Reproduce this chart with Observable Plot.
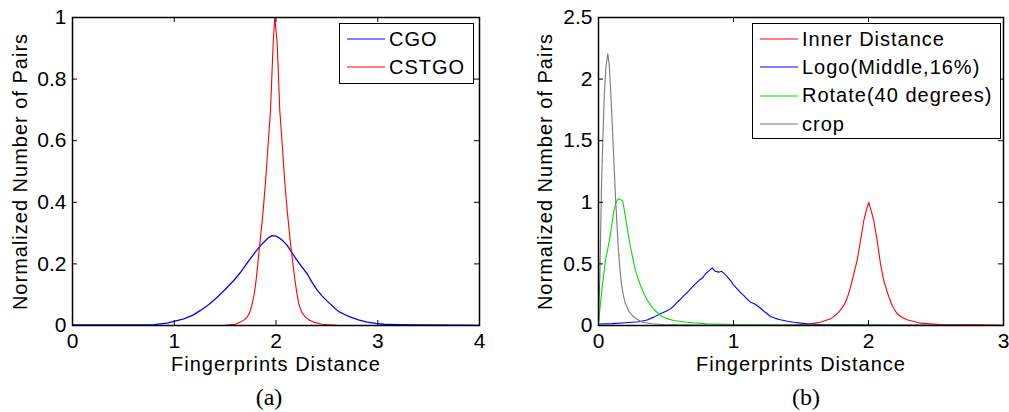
<!DOCTYPE html>
<html>
<head>
<meta charset="utf-8">
<script src="https://cdn.jsdelivr.net/npm/d3@7"></script>
<script src="https://cdn.jsdelivr.net/npm/@observablehq/plot@0.6"></script>
<style>
  html, body { margin: 0; padding: 0; background: #fff; }
  #wrap { position: relative; width: 1009px; height: 412px; overflow: hidden; background: #fff; font-family: "Liberation Sans", Arial, sans-serif; }
  .pnl { position: absolute; top: 0; }
  .legend { position: absolute; box-sizing: border-box; border: 1.5px solid #000; background: #fff; padding-top: 1px; }
  .row { display: flex; align-items: center; height: 28.3px; font-size: 20px; letter-spacing: 1px; color: #000; white-space: nowrap; }
  .row svg { display: block; margin-right: 4px; margin-left: 7px; }
  .cap { position: absolute; font-family: "Liberation Serif", "Times New Roman", serif; font-size: 24px; color: #000; transform: translate(-50%, -50%); }
</style>
</head>
<body>
<div id="wrap">
  <div id="pa" class="pnl" style="left:0px"></div>
  <div id="pb" class="pnl" style="left:500px"></div>
  <div id="lega" class="legend" style="left:339px; top:23px; width:135px; height:61px;"></div>
  <div id="legb" class="legend" style="left:752px; top:23px; width:249px; height:116px;"></div>
  <div class="cap" style="left:269px; top:397px;">(a)</div>
  <div class="cap" style="left:806px; top:397px;">(b)</div>
</div>
<script>
// ---------- Panel (a) data ----------
const aXTicks = [0, 1, 2, 3, 4];
const aYTicks = [0, 0.2, 0.4, 0.6, 0.8, 1];
const cgoX = [0, 0.5, 0.8, 0.93, 1.094, 1.18, 1.258, 1.34, 1.422, 1.5, 1.585, 1.65, 1.7, 1.75, 1.8, 1.85, 1.9, 1.935, 1.962, 2.0, 2.03, 2.07, 2.11, 2.15, 2.2, 2.25, 2.306, 2.355, 2.405, 2.45, 2.5, 2.56, 2.617, 2.68, 2.732, 2.81, 2.896, 2.98, 3.06, 3.2, 3.4, 3.85, 4];
const cgoY = [0.002, 0.002, 0.003, 0.0076, 0.0216, 0.033, 0.049, 0.068, 0.092, 0.117, 0.146, 0.172, 0.195, 0.218, 0.24, 0.26, 0.277, 0.287, 0.292, 0.29, 0.285, 0.274, 0.26, 0.24, 0.215, 0.192, 0.168, 0.14, 0.115, 0.097, 0.08, 0.062, 0.045, 0.035, 0.027, 0.018, 0.011, 0.007, 0.004, 0.003, 0.002, 0.001, 0];
const cstgoX = [0, 1.0, 1.5, 1.6, 1.65, 1.69, 1.717, 1.745, 1.766, 1.79, 1.808, 1.841, 1.874, 1.9, 1.923, 1.946, 1.959, 1.972, 1.988, 2.012, 2.025, 2.037, 2.061, 2.083, 2.11, 2.143, 2.182, 2.205, 2.224, 2.255, 2.29, 2.33, 2.37, 2.45, 2.6, 3.0, 4.0];
const cstgoY = [0, 0, 0.001, 0.004, 0.011, 0.019, 0.027, 0.045, 0.07, 0.11, 0.157, 0.265, 0.373, 0.48, 0.59, 0.698, 0.806, 0.915, 1.0, 0.915, 0.806, 0.698, 0.59, 0.48, 0.373, 0.265, 0.157, 0.105, 0.07, 0.042, 0.027, 0.017, 0.011, 0.004, 0.001, 0, 0];

// ---------- Panel (b) data ----------
const bXTicks = [0, 1, 2, 3];
const bYTicks = [0, 0.5, 1, 1.5, 2, 2.5];
const innerX = [0, 1.0, 1.4, 1.57, 1.644, 1.719, 1.75, 1.78, 1.805, 1.83, 1.85, 1.867, 1.891, 1.916, 1.941, 1.965, 1.985, 2.002, 2.02, 2.039, 2.064, 2.089, 2.113, 2.143, 2.175, 2.212, 2.25, 2.286, 2.385, 2.533, 3.0];
const innerY = [0, 0, 0.002, 0.013, 0.027, 0.054, 0.078, 0.108, 0.145, 0.189, 0.25, 0.311, 0.42, 0.528, 0.69, 0.852, 0.94, 1.0, 0.93, 0.852, 0.69, 0.5, 0.365, 0.257, 0.162, 0.095, 0.065, 0.046, 0.019, 0.008, 0.003];
const logoX = [0, 0.1, 0.2, 0.3, 0.36, 0.41, 0.459, 0.5, 0.533, 0.56, 0.583, 0.61, 0.632, 0.66, 0.681, 0.71, 0.743, 0.77, 0.793, 0.82, 0.842, 0.865, 0.891, 0.91, 0.928, 0.95, 0.978, 1.0, 1.027, 1.05, 1.077, 1.1, 1.126, 1.15, 1.175, 1.2, 1.225, 1.25, 1.274, 1.31, 1.348, 1.4, 1.447, 1.546, 1.644, 2.0, 2.5, 3.0];
const logoY = [0.012, 0.015, 0.022, 0.03, 0.045, 0.068, 0.095, 0.115, 0.135, 0.16, 0.189, 0.215, 0.243, 0.27, 0.298, 0.33, 0.365, 0.385, 0.42, 0.445, 0.468, 0.44, 0.433, 0.44, 0.425, 0.4, 0.365, 0.33, 0.298, 0.27, 0.243, 0.215, 0.189, 0.178, 0.162, 0.14, 0.116, 0.095, 0.073, 0.058, 0.046, 0.035, 0.027, 0.013, 0.008, 0.003, 0.002, 0];
const rotateX = [0, 0.027, 0.052, 0.07, 0.089, 0.114, 0.13, 0.146, 0.165, 0.18, 0.2, 0.22, 0.237, 0.255, 0.274, 0.29, 0.311, 0.34, 0.37, 0.41, 0.459, 0.5, 0.558, 0.64, 0.72, 0.805, 1.0, 1.5, 2.0, 3.0];
const rotateY = [0.02, 0.31, 0.53, 0.63, 0.744, 0.933, 1.0, 1.028, 1.02, 1.01, 0.879, 0.74, 0.635, 0.54, 0.446, 0.39, 0.325, 0.25, 0.19, 0.13, 0.081, 0.058, 0.04, 0.028, 0.02, 0.013, 0.008, 0.004, 0.002, 0];
const cropX = [0, 0.01, 0.022, 0.032, 0.042, 0.055, 0.069, 0.079, 0.089, 0.106, 0.126, 0.146, 0.158, 0.17, 0.185, 0.2, 0.225, 0.25, 0.285, 0.324, 0.4, 0.47, 0.7, 1.0, 1.5, 2.0, 3.0];
const cropY = [0.02, 0.4, 1.12, 1.5, 1.85, 2.1, 2.205, 2.12, 1.93, 1.53, 1.04, 0.635, 0.47, 0.338, 0.24, 0.176, 0.115, 0.081, 0.05, 0.027, 0.014, 0.008, 0.004, 0.003, 0.002, 0.001, 0];

const xTitle = "Fingerprints Distance";
const yTitle = "Normalized Number of Pairs";

const seriesA = [
  {name: "CGO", color: "#0000ff", width: 1.3, xs: cgoX, ys: cgoY},
  {name: "CSTGO", color: "#ff0000", width: 1.1, xs: cstgoX, ys: cstgoY}
];
const seriesB = [
  {name: "Inner Distance", color: "#ff0000", width: 1.1, xs: innerX, ys: innerY},
  {name: "Logo(Middle,16%)", color: "#0000ff", width: 1.1, xs: logoX, ys: logoY},
  {name: "Rotate(40 degrees)", color: "#00e000", width: 1.1, xs: rotateX, ys: rotateY},
  {name: "crop", color: "#7a7a7a", width: 1.1, xs: cropX, ys: cropY}
];

function toRows(s) { return s.xs.map((x, i) => ({x, y: s.ys[i]})); }

function panel({width, height, mL, mR, mT, mB, xDomain, yDomain, xTicks, yTicks, series, yTitleDx}) {
  const innerW = width - mL - mR;
  const innerH = height - mT - mB;
  const tl = 5;
  const marks = [];
  for (const s of series) {
    marks.push(Plot.line(toRows(s), {x: "x", y: "y", stroke: s.color, strokeWidth: s.width, clip: true}));
  }
  marks.push(
    Plot.tickX(xTicks, {x: d => d, insetTop: innerH - tl, stroke: "#000"}),
    Plot.tickX(xTicks, {x: d => d, insetBottom: innerH - tl, stroke: "#000"}),
    Plot.tickY(yTicks, {y: d => d, insetRight: innerW - tl, stroke: "#000"}),
    Plot.tickY(yTicks, {y: d => d, insetLeft: innerW - tl, stroke: "#000"}),
    Plot.frame({stroke: "#000", strokeWidth: 1.5}),
    Plot.axisX({ticks: xTicks, tickSize: 0, tickPadding: 8, fontSize: 21, tickFormat: d => String(d), label: null}),
    Plot.axisY({ticks: yTicks, tickSize: 0, tickPadding: 6, fontSize: 21, tickFormat: d => String(d), label: null}),
    Plot.text([xTitle], {text: d => d, frameAnchor: "bottom", lineAnchor: "middle", textAnchor: "middle", dy: 39, fontSize: 20, fill: "#000"}),
    Plot.text([yTitle], {text: d => d, frameAnchor: "left", lineAnchor: "middle", textAnchor: "middle", rotate: -90, dx: yTitleDx, fontSize: 20, fill: "#000"})
  );
  const svg = Plot.plot({
    width, height,
    marginLeft: mL, marginRight: mR, marginTop: mT, marginBottom: mB,
    x: {domain: xDomain},
    y: {domain: yDomain},
    style: {fontFamily: "'Liberation Sans', Arial, sans-serif", fontSize: "20px", color: "#000", background: "transparent", overflow: "visible"},
    marks
  });
  d3.select(svg).selectAll('g[aria-label="text"] text').attr("letter-spacing", "1px");
  return svg;
}

document.getElementById("pa").appendChild(panel({
  width: 500, height: 380, mL: 72, mR: 21, mT: 17, mB: 55,
  xDomain: [0, 4], yDomain: [0, 1], xTicks: aXTicks, yTicks: aYTicks, series: seriesA, yTitleDx: -52
}));
document.getElementById("pb").appendChild(panel({
  width: 509, height: 380, mL: 98, mR: 6, mT: 17, mB: 55,
  xDomain: [0, 3], yDomain: [0, 2.5], xTicks: bXTicks, yTicks: bYTicks, series: seriesB, yTitleDx: -53
}));

function legend(id, series) {
  const el = d3.select("#" + id);
  for (const s of series) {
    const row = el.append("div").attr("class", "row");
    const sv = row.append("svg").attr("width", 38).attr("height", 6);
    sv.append("line").attr("x1", 0).attr("x2", 38).attr("y1", 3).attr("y2", 3)
      .attr("stroke", s.color).attr("stroke-width", 1.2);
    row.append("span").text(s.name);
  }
}
legend("lega", seriesA);
legend("legb", seriesB);
</script>
</body>
</html>
